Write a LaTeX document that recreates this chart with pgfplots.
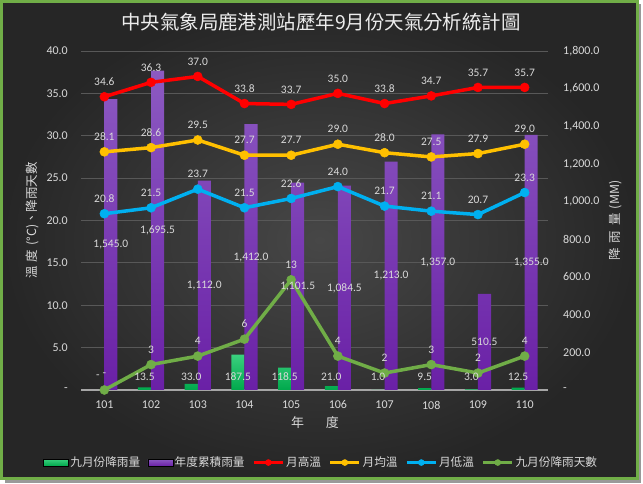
\documentclass[border=0pt]{standalone}
\usepackage{pgfplots}
\pgfplotsset{compat=1.18}
\usepackage{pgfplotstable}
\usepackage{fontspec}
\setmainfont{Carlito}
\newfontfamily\cjk{Noto Sans CJK TC}

\definecolor{bgin}{HTML}{474747}
\definecolor{bgout}{HTML}{262626}
\definecolor{framec}{HTML}{70AD47}
\definecolor{txt}{HTML}{D9D9D9}
\definecolor{gridc}{HTML}{585858}
\definecolor{axc}{HTML}{A6A6A6}
\definecolor{gbarT}{HTML}{3AD07E}
\definecolor{gbarB}{HTML}{00A84C}
\definecolor{pbarT}{HTML}{8C5AC2}
\definecolor{pbarB}{HTML}{6A20A6}
\definecolor{cred}{HTML}{FF0000}
\definecolor{cyel}{HTML}{FFC000}
\definecolor{cblu}{HTML}{00B0F0}
\definecolor{cgrn}{HTML}{70AD47}

\pgfplotstableread{
x sept septlab annual annlab
0 0    -     1545.0 1,545.0
1 13.5 13.5  1695.5 1,695.5
2 33.0 33.0  1112.0 1,112.0
3 187.5 187.5 1412.0 1,412.0
4 118.5 118.5 1101.5 1,101.5
5 21.0 21.0  1084.5 1,084.5
6 1.0  1.0   1213.0 1,213.0
7 9.5  9.5   1357.0 1,357.0
8 3.0  3.0   510.5  510.5
9 12.5 12.5  1355.0 1,355.0
}\rain

\pgfplotstableread{
x high avg low days daylab
0 34.6 28.1 20.8 0  -
1 36.3 28.6 21.5 3  3
2 37.0 29.5 23.7 4  4
3 33.8 27.7 21.5 6  6
4 33.7 27.7 22.6 13 13
5 35.0 29.0 24.0 4  4
6 33.8 28.0 21.7 2  2
7 34.7 27.5 21.1 3  3
8 35.7 27.9 20.7 2  2
9 35.7 29.0 23.3 4  4
}\temps

\pgfplotsset{
  base/.style={scale only axis, width=467bp, height=339bp,
    at={(81bp,94bp)}, anchor=south west, xmin=-0.5, xmax=9.5, clip=false,
    major tick length=0pt,
    tick label style={font=\fontsize{12}{14}\selectfont, text=txt}},
  lab/.style={nodes near coords, point meta=explicit symbolic,
    every node near coord/.append style={font=\fontsize{11.5}{13}\selectfont,
      text=txt, anchor=center, inner sep=0pt}},
  lineplot/.style={#1, line width=3.5bp, mark=*, mark size=4.5bp,
    mark options={solid, line width=0.5bp, fill=#1, draw=#1},
    lab, every node near coord/.append style={yshift=15bp},
    legend image code/.code={\draw[##1, mark size=3bp, mark repeat=2, mark phase=2]
      plot coordinates {(0bp,0bp) (14.5bp,0bp) (29bp,0bp)};}}
}

\begin{document}
\begin{tikzpicture}
\fill[white] (0bp,0bp) rectangle (643bp,484bp);
\fill[black!40] (4.5bp,1bp) rectangle (641bp,480bp);
\shade[inner color=bgin, outer color=bgout] (1.5bp,5bp) rectangle (637.5bp,482.5bp);
\draw[framec, line width=3bp] (1.5bp,5bp) rectangle (637.5bp,482.5bp);
\node[text=white!93!black, font=\cjk\fontsize{19.5}{22}\selectfont] at (321bp,462bp)
  {中央氣象局鹿港測站歷年9月份天氣分析統計圖};

% axis 1: grid, left ticks, x ticks
\begin{axis}[base, ymin=0, ymax=40,
  ytick={0,5,...,40},
  yticklabels={{-\hspace{8bp}},5.0,10.0,15.0,20.0,25.0,30.0,35.0,40.0},
  xtick={0,1,2,3,4,5,6,7,8,9},
  xticklabels={101,102,103,104,105,106,107,108,109,110},
  ymajorgrids, grid style={gridc, line width=0.8bp},
  axis x line*=bottom, axis y line*=left,
  y axis line style={draw=none},
  x axis line style={-, draw=axc, line width=1.2bp},
  yticklabel style={anchor=east, inner sep=0pt, xshift=-13bp},
  xticklabel style={anchor=center, inner sep=0pt, yshift=-15bp},
  ylabel={\cjk 溫\hspace{4bp}度\hspace{4bp}(°C)、降雨天數},
  ylabel style={at={(axis description cs:-0.105,0.5)}, anchor=center,
    font=\fontsize{12.5}{14}\selectfont, text=txt},
  xlabel={\cjk 年\hspace{22bp}度},
  xlabel style={at={(axis description cs:0.501,-0.097)}, anchor=center,
    font=\fontsize{13}{15}\selectfont, text=txt},
]
\addplot[draw=none, mark=none] coordinates {(0,0)};
\end{axis}

% axis 2: bars on right axis
\begin{axis}[base, ymin=0, ymax=1800,
  ytick={0,200,...,1800},
  yticklabels={-,200.0,400.0,600.0,800.0,{1,000.0},{1,200.0},{1,400.0},{1,600.0},{1,800.0}},
  xtick=\empty,
  axis x line*=bottom, axis y line*=right,
  axis line style={draw=none},
  yticklabel style={anchor=west, inner sep=0pt, xshift=15bp},
]
\addplot[ybar, bar width=0.28, bar shift=-0.14, draw=none,
  top color=gbarT, bottom color=gbarB,
  y filter/.expression={y<=0 ? nan : y}] table[x=x, y=sept] {\rain};
\addplot[ybar, bar width=0.28, bar shift=0.14, draw=none,
  top color=pbarT, bottom color=pbarB] table[x=x, y=annual] {\rain};
\node[rotate=90, anchor=center, font=\cjk\fontsize{12.5}{14}\selectfont, text=txt]
  at (axis description cs:1.1435,0.5) {降\hspace{5bp}雨\hspace{5bp}量\hspace{4bp}(MM)};
\end{axis}

% axis 3: lines on left axis
\begin{axis}[base, ymin=0, ymax=40, hide axis,
  legend style={at={(axis description cs:0.514,-0.214)}, anchor=center,
    draw=none, fill=none, legend columns=6,
    font=\cjk\fontsize{11.7}{13}\selectfont, text=txt,
    /tikz/every even column/.append style={column sep=6bp},
    inner sep=0pt, nodes={inner sep=1.5bp}},
]
\addlegendimage{legend image code/.code={\fill[top color=gbarT, bottom color=gbarB] (0bp,-3.5bp) rectangle (25bp,3.5bp);}}
\addlegendentry{九月份降雨量}
\addlegendimage{legend image code/.code={\fill[top color=pbarT, bottom color=pbarB] (0bp,-3.5bp) rectangle (25bp,3.5bp);}}
\addlegendentry{年度累積雨量}
\addplot[lineplot=cred] table[x=x, y=high, meta=high] {\temps};
\addlegendentry{月高溫}
\addplot[lineplot=cyel] table[x=x, y=avg, meta=avg] {\temps};
\addlegendentry{月均溫}
\addplot[lineplot=cblu] table[x=x, y=low, meta=low] {\temps};
\addlegendentry{月低溫}
\addplot[lineplot=cgrn] table[x=x, y=days, meta=daylab] {\temps};
\addlegendentry{九月份降雨天數}
\end{axis}

% axis 4: bar labels on right axis scale
\begin{axis}[base, ymin=0, ymax=1800, hide axis]
\addplot[draw=none, mark=none, lab] table[x expr=\thisrow{x}-0.14, y expr=69, meta=septlab] {\rain};
\addplot[draw=none, mark=none, lab] table[x expr=\thisrow{x}+0.14, y expr=\thisrow{annual}/2, meta=annlab] {\rain};
\end{axis}
\end{tikzpicture}
\end{document}
